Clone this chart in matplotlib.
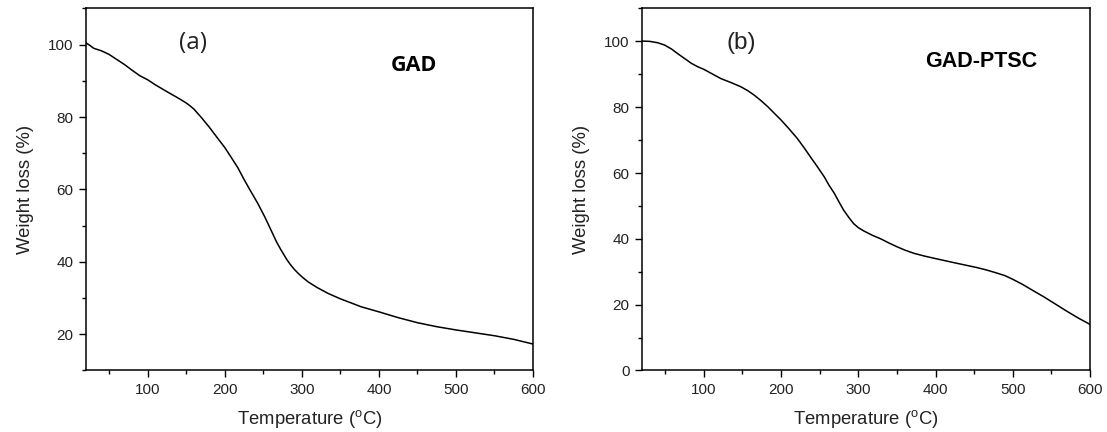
import matplotlib
matplotlib.use("Agg")
import matplotlib.pyplot as plt
from matplotlib.ticker import MultipleLocator

plt.rcParams['font.family'] = ['Liberation Sans', 'DejaVu Sans']

temp_gad = [20, 25, 30, 40, 50, 60, 70, 80, 90, 100, 110, 126, 140, 150, 155, 160, 170,
            180, 191, 200, 208, 217, 225, 234, 243, 252, 260, 267, 273, 277, 280, 285,
            290, 295, 300, 308, 320, 334, 350, 377, 400, 425, 450, 475, 500, 525, 550,
            575, 600]
wt_gad = [100.5, 99.8, 99.0, 98.3, 97.3, 95.9, 94.5, 92.9, 91.4, 90.3, 88.9, 86.9, 85.2,
          83.9, 83.1, 82.2, 79.8, 77.2, 74.1, 71.6, 69.0, 66.0, 62.8, 59.4, 56.1, 52.4,
          48.8, 45.6, 43.3, 41.9, 40.8, 39.3, 38.0, 36.9, 35.9, 34.5, 32.9, 31.3, 29.8,
          27.6, 26.2, 24.6, 23.2, 22.1, 21.2, 20.4, 19.6, 18.6, 17.3]

temp_ptsc = [20, 30, 40, 49, 58, 66, 75, 84, 92, 100, 111, 122, 135, 148, 157, 165, 174,
             183, 191, 200, 210, 221, 230, 238, 247, 256, 262, 269, 275, 281, 288, 294,
             300, 307, 318, 329, 340, 350, 360, 372, 385, 398, 425, 453, 465, 478, 490,
             500, 513, 526, 540, 555, 570, 585, 600]
wt_ptsc = [100.1, 100.0, 99.6, 98.9, 97.7, 96.3, 94.8, 93.3, 92.3, 91.5, 90.1, 88.7, 87.5,
           86.2, 85.0, 83.7, 82.0, 80.1, 78.2, 76.1, 73.5, 70.5, 67.6, 64.9, 61.9, 58.8,
           56.3, 53.8, 51.2, 48.7, 46.4, 44.6, 43.4, 42.4, 41.1, 40.0, 38.7, 37.6, 36.6,
           35.6, 34.8, 34.1, 32.7, 31.3, 30.6, 29.7, 28.8, 27.7, 26.1, 24.3, 22.4, 20.2,
           18.0, 15.9, 14.0]

panels = [
    dict(x=temp_gad, y=wt_gad, ylim=(10, 110), label="(a)", name="GAD",
         pos=[0.0777, 0.1424, 0.4038, 0.838], lab_xy=(0.239, 0.905), name_xy=(0.734, 0.842),
         lab_font=['Open Sans'], name_font=['Open Sans'], name_size=15.5, lab_size=17.5),
    dict(x=temp_ptsc, y=wt_ptsc, ylim=(0, 110), label="(b)", name="GAD-PTSC",
         pos=[0.580, 0.1424, 0.4047, 0.838], lab_xy=(0.221, 0.905), name_xy=(0.757, 0.853),
         lab_font=['Liberation Sans'], name_font=['Liberation Sans'], name_size=15.5,
         lab_size=17.5),
]

fig = plt.figure(figsize=(11.07, 4.32), dpi=100)
for p in panels:
    ax = fig.add_axes(p['pos'])
    ax.plot(p['x'], p['y'], color='black', lw=1.1)
    ax.set_xlim(20, 600)
    ax.set_ylim(*p['ylim'])
    ax.xaxis.set_major_locator(MultipleLocator(100))
    ax.xaxis.set_minor_locator(MultipleLocator(50))
    ax.yaxis.set_major_locator(MultipleLocator(20))
    ax.yaxis.set_minor_locator(MultipleLocator(10))
    ax.tick_params(which='major', direction='out', length=5, width=1.0, labelsize=11,
                   labelcolor='#222222', pad=4)
    ax.tick_params(which='minor', direction='out', length=3, width=1.0)
    for s in ax.spines.values():
        s.set_linewidth(1.1)
    ax.set_xlabel("Temperature ($\\mathregular{^{o}}$C)", fontsize=13.3, color='#222222',
                  labelpad=8)
    ax.set_ylabel("Weight loss (%)", fontsize=13.3, color='#222222', labelpad=10)
    ax.text(*p['lab_xy'], p['label'], transform=ax.transAxes, ha='center', va='center',
            fontsize=p['lab_size'], family=p['lab_font'], color='#222222')
    ax.text(*p['name_xy'], p['name'], transform=ax.transAxes, ha='center', va='center',
            fontsize=p['name_size'], fontweight='bold', family=p['name_font'], color='black')

fig.savefig("out.png", dpi=100)
